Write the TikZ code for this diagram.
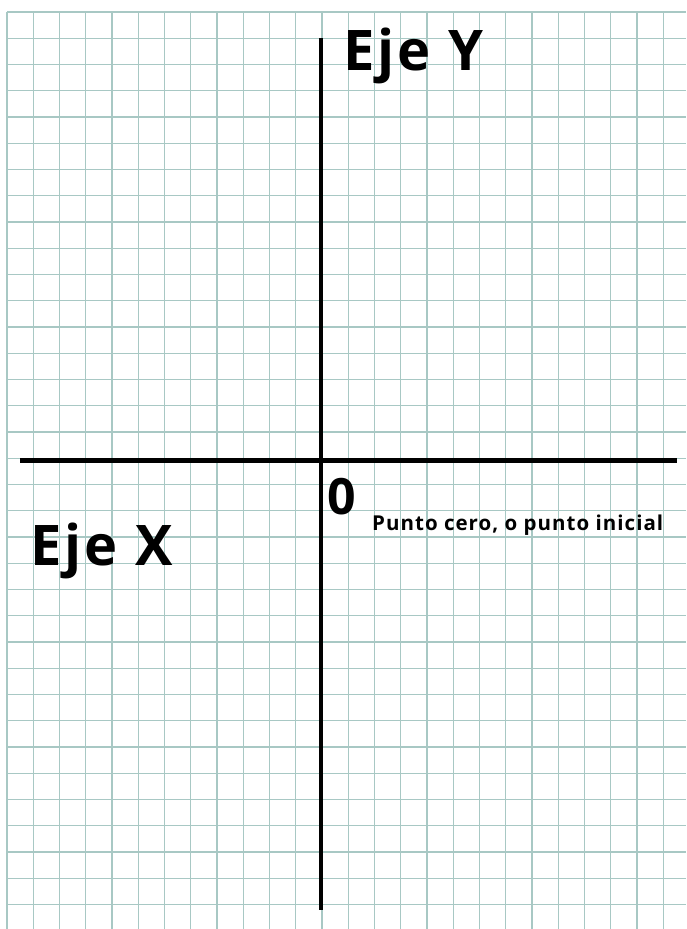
\documentclass[tikz,border=0pt]{standalone}
\usepackage{fontspec}
\setmainfont{Open Sans}
\definecolor{gridc}{RGB}{168,200,196}
\begin{document}
\begin{tikzpicture}[x=1pt,y=-1pt,
  gridline/.style={draw=gridc,line width=1.2pt},
  axis/.style={draw=black,line width=4.5pt},
  lbl/.style={inner sep=0pt,anchor=base west,font=\bfseries}]
\fill[white] (0,0) rectangle (686,929);
\useasboundingbox (0,0) rectangle (686,929);
\foreach \k in {0,...,25} {\draw[gridline] ({7+26.25*\k},12) -- ({7+26.25*\k},929);}
\foreach \k in {0,...,34} {\draw[gridline] (7,{12+26.25*\k}) -- (686,{12+26.25*\k});}
\coordinate (xl) at (20,460.5);
\coordinate (xr) at (677,460.5);
\coordinate (yt) at (321,38);
\coordinate (yb) at (321,910);
\draw[axis] (xl) -- (xr);
\draw[axis] (yt) -- (yb);
\node[lbl,font=\fontsize{56}{60}\selectfont\bfseries\addfontfeatures{LetterSpace=5.5}] (ey) at (343,70) {Eje Y};
\node[lbl,font=\fontsize{56}{60}\selectfont\bfseries\addfontfeatures{LetterSpace=5.5}] (ex) at (30,565) {Eje X};
\node[lbl,font=\fontsize{50}{54}\selectfont\bfseries] (zero) at (327,514) {0};
\node[lbl,font=\fontsize{20.5}{22}\selectfont\bfseries\addfontfeatures{LetterSpace=5}] (pc) at (372,530) {Punto cero, o punto inicial};
\end{tikzpicture}
\end{document}
